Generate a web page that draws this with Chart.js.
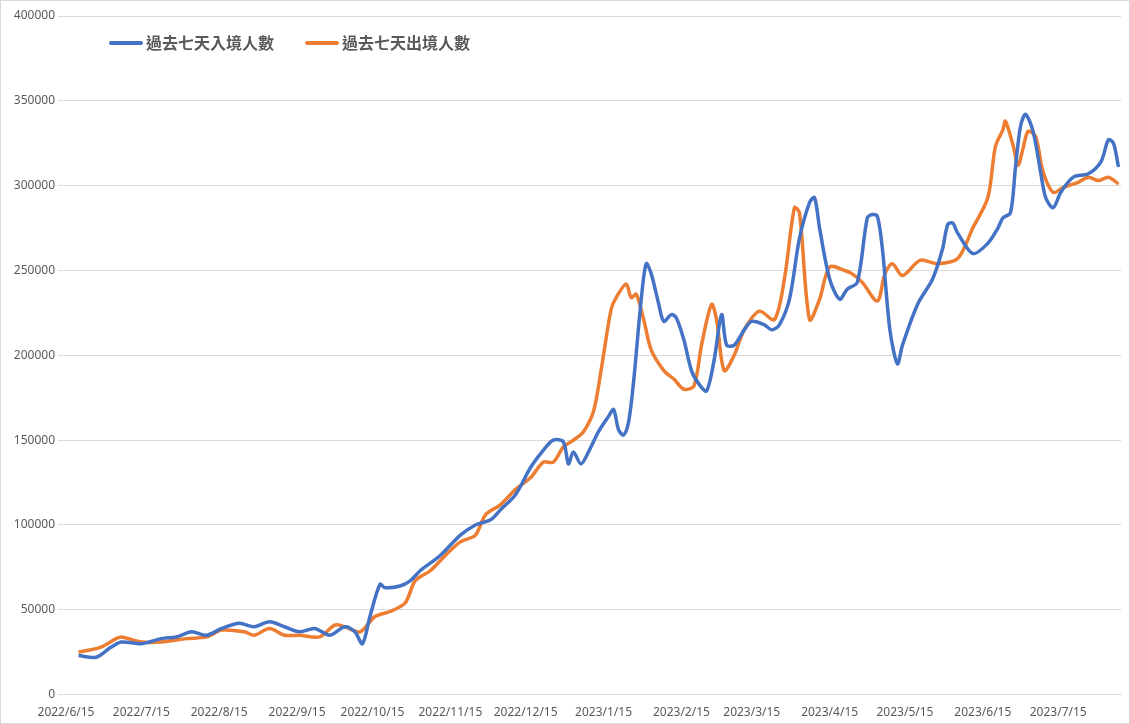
<!DOCTYPE html>
<html><head><meta charset="utf-8">
<script src="https://cdn.jsdelivr.net/npm/chart.js@4"></script>
<style>html,body{margin:0;padding:0;background:#fff}#w{position:absolute;left:0;top:0;width:1128px;height:722px;border:1px solid #d9d9d9}</style>
</head><body><div id="w"><canvas id="c"></canvas></div>
<script>
// day offsets from 2022-06-15
const tickDays = [0,30,61,92,122,153,183,214,245,273,304,334,365,395];
const tickLabels = ["2022/6/15","2022/7/15","2022/8/15","2022/9/15","2022/10/15","2022/11/15","2022/12/15","2023/1/15","2023/2/15","2023/3/15","2023/4/15","2023/5/15","2023/6/15","2023/7/15"];
const inDays = [5,12,18,22,30,38,44,50,56,62,69,75,81,87,93,99,105,111,115,118,121,125,127,133,137,141,149,157,163,169,173,179,185,190,194,198,200,202,205,208,212,216,218,220,222,224,226,229,231,233,236,238,241,243,246,249,252,255,258,261,263,266,270,273,278,281,284,288,292,296,298,300,304,308,311,315,319,321,323,325,328,331,333,339,345,349,351,353,355,361,367,371,373,376,378,380,382,385,388,390,393,396,401,407,412,415,417,419];
const inValues = [23,22,28,31,30,33,34,37,35,39,42,40,43,40,37,39,35,40,37,30,46,65,63,64,67,73,82,94,100,103,109,118,134,144,150,149,136,143,136,143,155,164,168,156,153,161,185,233,254,248,230,220,224,222,209,191,183,179,197,224,206,206,215,220,218,215,218,233,269,290,293,275,245,233,239,243,281,283,282,263,215,195,206,230,245,263,277,278,272,260,266,275,281,284,311,335,342,332,308,293,287,296,305,307,314,327,325,311,302].map(v=>v*1000);
const outDays = [5,14,20,22,30,38,48,56,62,71,75,81,87,93,101,107,111,117,123,129,135,139,145,151,157,163,167,173,179,185,190,194,198,202,206,210,213,217,219,223,225,227,230,233,238,242,246,250,253,257,259,262,266,270,276,282,286,290,292,296,300,304,310,313,317,323,326,329,333,340,347,355,361,367,370,373,374,377,379,381,383,386,389,393,397,403,407,411,415,419];
const outValues = [25,28,33,34,31,31,33,34,38,37,35,39,35,35,34,41,40,37,46,49,54,67,73,82,90,94,106,112,121,128,137,137,146,150,155,167,191,227,234,242,234,236,221,203,191,186,180,182,206,230,221,191,200,215,226,221,245,287,284,221,233,252,250,248,243,232,248,254,247,256,254,257,275,293,323,333,338,324,312,322,332,329,308,296,299,302,305,303,305,301].map(v=>v*1000);

const toXY = (d,v)=>d.map((x,i)=>({x:x,y:v[i]}));
const legendPlugin = {id:'lg',afterDraw(ch){
  const c=ch.ctx; c.save();
  c.font='bold 16px "Noto Sans CJK TC"'; c.textBaseline='middle';
  let x=110; const y=42;
  ch.data.datasets.forEach(ds=>{
    c.strokeStyle=ds.borderColor; c.lineWidth=4; c.lineCap='round';
    c.beginPath(); c.moveTo(x,y); c.lineTo(x+30,y); c.stroke();
    c.fillStyle='#595959'; c.fillText(ds.label,x+35,y);
    x+=35+c.measureText(ds.label).width+33;
  });
  c.restore();
}};
new Chart(document.getElementById('c'),{
  type:'line',
  data:{datasets:[
    {label:'過去七天入境人數',data:toXY(inDays,inValues),borderColor:'#4472C4',backgroundColor:'#4472C4',borderWidth:3.5,pointRadius:0,tension:0.3},
    {label:'過去七天出境人數',data:toXY(outDays,outValues),borderColor:'#ED7D31',backgroundColor:'#ED7D31',borderWidth:3.5,pointRadius:0,tension:0.3}
  ]},
  plugins:[legendPlugin],
  options:{
    responsive:true,maintainAspectRatio:false,animation:false,
    layout:{padding:{left:0,right:8,top:15,bottom:0}},
    plugins:{legend:{display:false},tooltip:{enabled:false}},
    scales:{
      x:{type:'linear',min:0,max:420,
        afterBuildTicks:a=>{a.ticks=tickDays.map(v=>({value:v}));},
        ticks:{autoSkip:false,maxRotation:0,color:'#595959',font:{family:'Noto Sans',size:12},callback:(v)=>{const i=tickDays.indexOf(v);return i>=0?tickLabels[i]:'';}},
        grid:{display:false},border:{color:'#d9d9d9'}},
      y:{min:0,max:400000,afterFit:s=>{s.width=65;},
        ticks:{stepSize:50000,color:'#595959',font:{family:'Noto Sans',size:12},callback:v=>String(v)},
        grid:{color:'#d9d9d9'},border:{display:false}}
    }
  }
});
</script></body></html>
